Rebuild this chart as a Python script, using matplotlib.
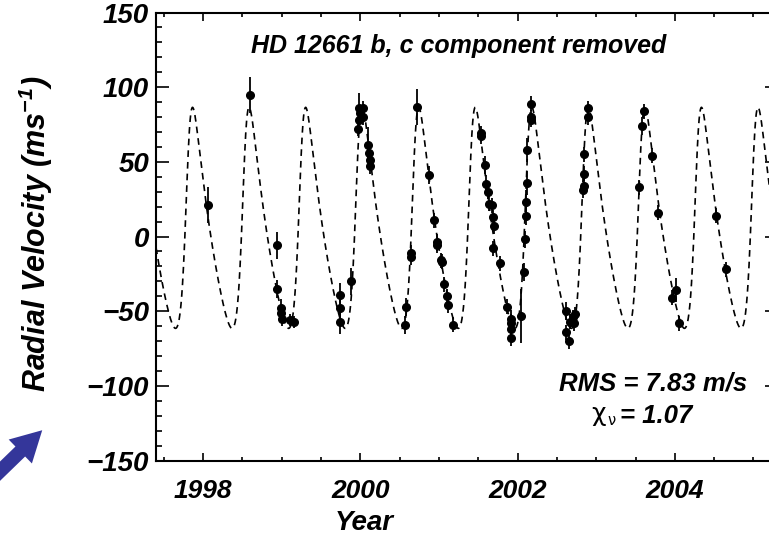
#!/usr/bin/env python3

import matplotlib

matplotlib.use("Agg")

import matplotlib.pyplot as plt
import numpy as np
from matplotlib.patches import FancyArrowPatch
from matplotlib.ticker import FuncFormatter, MultipleLocator


OUTPUT_FILENAME = "out.png"

YEARS = [
    1998.056, 1998.593, 1998.94, 1998.94, 1998.985, 1998.995, 1999.005,
    1999.11, 1999.15, 1999.735, 1999.735, 1999.735, 1999.88,
    1999.97, 1999.98, 2000.00, 1999.985, 2000.03, 2000.03,
    2000.10, 2000.11, 2000.12, 2000.12,
    2000.58, 2000.57, 2000.645, 2000.64, 2000.72, 2000.87, 2000.94,
    2000.97, 2000.98, 2001.03, 2001.035, 2001.06, 2001.10, 2001.11, 2001.18,
    2001.53, 2001.53, 2001.59, 2001.60, 2001.62, 2001.63, 2001.68, 2001.69,
    2001.70, 2001.69, 2001.77, 2001.86, 2001.91, 2001.91, 2001.92, 2001.92,
    2002.04, 2002.08, 2002.09, 2002.11, 2002.11, 2002.115, 2002.115,
    2002.17, 2002.17, 2002.175,
    2002.61, 2002.67, 2002.70, 2002.73, 2002.72, 2002.61, 2002.65,
    2002.84, 2002.84, 2002.84, 2002.83, 2002.90, 2002.90,
    2003.61, 2003.58, 2003.55, 2003.71, 2003.79,
    2004.02, 2003.96, 2004.05, 2004.53, 2004.65,
]

RV = [
    21, 95, -6, -35, -48, -51, -55,
    -56, -57, -39, -48, -57, -30,
    72, 78, 83, 86, 86, 80,
    61, 56, 51, 47,
    -47, -59, -11, -14, 87, 41, 11,
    -4, -6, -16, -17, -32, -40, -46, -59,
    69, 67, 48, 35, 30, 22, 21, 13,
    7, -8, -18, -47, -55, -58, -62, -68,
    -53, -24, -2, 14, 23, 36, 58,
    89, 80, 78,
    -50, -57, -54, -52, -58, -64, -70,
    55, 42, 34, 31, 86, 80,
    84, 74, 33, 54, 16,
    -36, -41, -58, 14, -22,
]

RV_ERR = [
    12, 12, 9, 6, 6, 5, 5,
    4, 4, 8, 8, 8, 9,
    5, 5, 5, 10, 5, 5,
    12, 5, 5, 5,
    6, 6, 5, 5, 12, 6, 5,
    6, 5, 5, 5, 5, 5, 5, 5,
    5, 5, 6, 6, 5, 5, 5, 5,
    5, 5, 5, 5, 6, 6, 5, 5,
    18, 6, 6, 6, 8, 8, 8,
    5, 5, 5,
    6, 5, 5, 5, 5, 5, 5,
    5, 5, 5, 5, 5, 5,
    5, 6, 5, 5, 5,
    8, 5, 5, 5, 5,
]

# Keplerian orbit of planet b (dashed model curve), estimated from the figure.
PERIOD_YR = 0.7194
K_AMP = 74.0
ECC = 0.35
OMEGA_DEG = 296.0
T_PERI = 1997.80
GAMMA = 1.15

X_RANGE = (1997.4, 2005.3)
Y_RANGE = (-150, 150)

TITLE = "HD 12661 b, c component removed"
RMS_TEXT = "RMS = 7.83 m/s"
CHI_VALUE_TEXT = "= 1.07"


def keplerian_rv(t: np.ndarray) -> np.ndarray:
    """Radial velocity of a single Keplerian orbit."""

    mean_anom = 2 * np.pi * (t - T_PERI) / PERIOD_YR
    ecc_anom = mean_anom.copy()
    for _ in range(40):
        ecc_anom -= (ecc_anom - ECC * np.sin(ecc_anom) - mean_anom) / (
            1 - ECC * np.cos(ecc_anom)
        )
    true_anom = 2 * np.arctan2(
        np.sqrt(1 + ECC) * np.sin(ecc_anom / 2),
        np.sqrt(1 - ECC) * np.cos(ecc_anom / 2),
    )
    omega = np.radians(OMEGA_DEG)
    return K_AMP * (np.cos(true_anom + omega) + ECC * np.cos(omega)) + GAMMA


def minus_fmt(value, _pos):
    return f"{value:.0f}".replace("-", "\u2212")


def main() -> int:
    plt.rcParams["font.family"] = ["Liberation Sans", "DejaVu Sans"]
    plt.rcParams["font.weight"] = "bold"
    plt.rcParams["font.style"] = "italic"
    plt.rcParams["mathtext.fontset"] = "custom"
    plt.rcParams["mathtext.rm"] = "Liberation Sans:bold:italic"
    plt.rcParams["mathtext.it"] = "Liberation Sans:bold:italic"
    plt.rcParams["mathtext.bf"] = "Liberation Sans:bold:italic"

    fig = plt.figure(figsize=(7.69, 5.39), dpi=100)
    ax = fig.add_axes([0.2029, 0.1456, 0.8075, 0.8312])

    t_model = np.linspace(X_RANGE[0], X_RANGE[1], 3000)
    (model_line,) = ax.plot(
        t_model, keplerian_rv(t_model), color="black", linewidth=1.2
    )
    model_line.set_dashes([4, 3])

    ax.errorbar(
        YEARS,
        RV,
        yerr=RV_ERR,
        fmt="o",
        color="black",
        markersize=5.5,
        elinewidth=1.3,
        capsize=0,
    )

    ax.set_xlim(*X_RANGE)
    ax.set_ylim(*Y_RANGE)

    ax.xaxis.set_major_locator(MultipleLocator(2))
    ax.xaxis.set_minor_locator(MultipleLocator(0.5))
    ax.yaxis.set_major_locator(MultipleLocator(50))
    ax.yaxis.set_minor_locator(MultipleLocator(10))
    ax.xaxis.set_major_formatter(FuncFormatter(minus_fmt))
    ax.yaxis.set_major_formatter(FuncFormatter(minus_fmt))

    for spine in ax.spines.values():
        spine.set_linewidth(1.5)

    ax.tick_params(axis="both", which="both", direction="in",
                   top=True, right=True, width=1.2)
    ax.tick_params(axis="x", which="major", length=6, labelsize=19, pad=13)
    ax.tick_params(axis="x", which="minor", length=3)
    ax.tick_params(axis="y", which="major", length=9, labelsize=20, pad=5)
    ax.tick_params(axis="y", which="minor", length=4.5)

    fig.text(0.4730, 0.0297, "Year", ha="center", va="center", fontsize=20)
    fig.text(0.047, 0.566, "Radial Velocity (ms$^{-1}$)",
             rotation=90, ha="center", va="center", fontsize=22)

    fig.text(0.5962, 0.9147, TITLE, ha="center", va="center", fontsize=18)
    fig.text(0.849, 0.2876, RMS_TEXT, ha="center", va="center",
             fontsize=18.5)

    # reduced chi-square: upright plain chi with nu subscript
    fig.text(0.7685, 0.2189, "\u03c7", ha="left", va="baseline",
             fontsize=18, family="DejaVu Sans", weight="normal",
             style="normal")
    fig.text(0.7895, 0.2115, "\u03bd", ha="left", va="baseline",
             fontsize=10.5, family="DejaVu Sans", weight="normal",
             style="normal")
    fig.text(0.8062, 0.2161, CHI_VALUE_TEXT, ha="left", va="baseline",
             fontsize=18.5)

    arrow = FancyArrowPatch(
        (-0.015, 0.105), (0.0575, 0.2054),
        transform=fig.transFigure,
        arrowstyle="simple,head_length=1.1,head_width=1.2,tail_width=0.5",
        mutation_scale=20,
        color="#34369a",
        linewidth=0,
    )
    fig.add_artist(arrow)

    fig.savefig(OUTPUT_FILENAME, dpi=100)
    plt.close(fig)
    return 0


if __name__ == "__main__":
    raise SystemExit(main())
